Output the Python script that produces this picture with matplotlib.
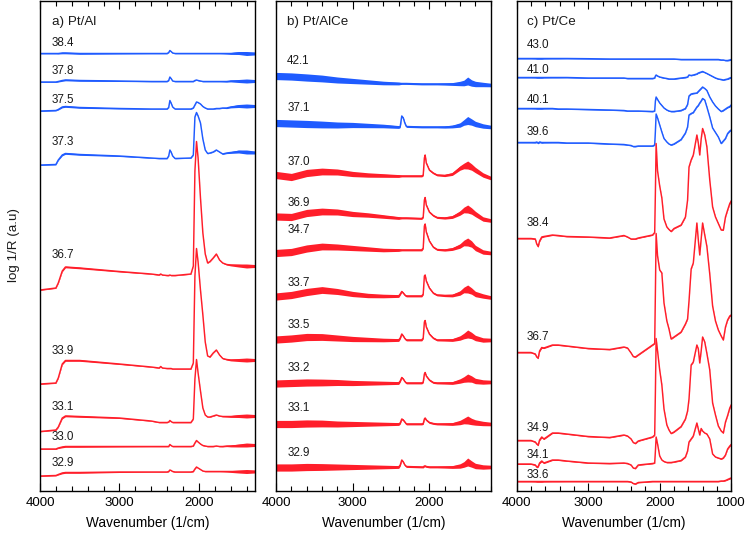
import matplotlib
matplotlib.use("Agg")
import matplotlib.pyplot as plt
from matplotlib.ticker import MultipleLocator
import numpy as np

plt.rcParams['font.family'] = ['Liberation Sans', 'DejaVu Sans']

BLUE = '#1f5bff'
RED = '#ff1e2a'

# ---------------- panel a) Pt/Al ----------------
a_title = "a) Pt/Al"
a_wn = [4000, 3800, 3770, 3720, 3680, 3500,
        3000, 2600, 2500, 2480, 2460, 2400,
        2380, 2365, 2350, 2330, 2300, 2100,
        2070, 2050, 2030, 2010, 1980, 1950,
        1920, 1890, 1860, 1820, 1780, 1740,
        1700, 1650, 1600, 1500, 1400, 1300]
a_labels = ["38.4", "37.8", "37.5", "37.3", "36.7", "33.9", "33.1", "33.0", "32.9"]
a_label_y = [448, 420, 391, 349, 236, 140.3, 84.3, 54.3, 28.3]
a_colors = [BLUE] * 4 + [RED] * 5
a_384 = [437.5, 437.5, 437.5, 438.0, 438.0, 437.5,
         437.5, 437.5, 437.5, 437.5, 437.5, 437.5,
         438.5, 440.5, 439.5, 438.0, 437.5, 437.5,
         437.5, 437.5, 437.5, 437.5, 437.5, 437.5,
         437.5, 437.5, 437.5, 437.5, 437.5, 437.5,
         437.5, 437.5, 437.5, 438.0, 437.5, 437.5]
a_378 = [409, 409, 409.5, 410.5, 411, 410.5,
         410, 409.5, 409.5, 409.5, 409.5, 409.5,
         410.5, 414, 412.5, 410, 409.5, 409.5,
         409.5, 410.5, 411, 410.5, 410, 409.5,
         409.5, 409.5, 409.5, 409.5, 409.5, 409.5,
         409.5, 409.5, 410, 410, 410, 410]
a_375 = [380, 380.5, 381.5, 384, 384.5, 383.5,
         382.5, 382, 382, 382, 382, 382,
         383.5, 390.5, 388, 384, 382, 382,
         383, 386, 389, 388.5, 387, 384.5,
         383, 382, 382, 382, 382.5, 382.5,
         383, 383, 384, 385, 385, 385]
a_373 = [326, 326.5, 331, 336, 337.5, 336.5,
         335, 333, 332.5, 332.5, 332.5, 332.5,
         335, 341, 339, 335, 332.5, 333,
         336, 374, 378.5, 375, 368, 352,
         341, 337.5, 338, 339, 341, 339,
         337, 338, 338.5, 339.5, 339, 338.5]
a_367 = [201, 203, 208, 220, 224, 223,
         219.5, 217, 216, 217, 216, 215.5,
         215.5, 216, 215.5, 215.5, 215.5, 217,
         225, 320, 349.5, 333, 293, 258,
         237, 228, 229.5, 233, 237, 231,
         228, 226.5, 226, 225.5, 225, 225]
a_339 = [107, 108, 113, 127, 130.5, 130.5,
         127, 124, 123, 124.5, 123, 122.5,
         122.5, 122.5, 122.5, 122, 122, 122,
         128, 215, 242.5, 229, 201, 176,
         149, 135, 134, 138, 141, 136,
         132.5, 131.5, 131, 131, 131, 131]
a_331 = [59.5, 61, 64, 73, 75, 74.5,
         73, 70, 68.5, 68.5, 68.5, 68.5,
         69, 70.5, 69.5, 68.5, 68.5, 68.5,
         72, 112, 131.5, 118, 100, 83,
         76, 74, 74, 75, 76, 75,
         74.5, 74.5, 74.5, 75, 75, 75]
a_330 = [42, 42, 43, 44, 44.5, 44.5,
         44.5, 44.5, 44.5, 44.5, 44.5, 44.5,
         44.5, 46.5, 45.5, 44.5, 44.5, 44.5,
         45, 48, 50.5, 49, 47, 45.5,
         45, 44.5, 44.5, 44.5, 45, 44.5,
         44.5, 45, 45, 45.5, 46, 46]
a_329 = [15, 15.5, 16.5, 18, 18.5, 18.5,
         19, 19, 19, 19, 19, 19,
         19.5, 21, 20.5, 19.5, 19, 19,
         19.5, 22, 24, 23, 21.5, 20,
         19.5, 19.5, 19.5, 19.5, 19.5, 19.5,
         19.5, 19.5, 19.5, 19.5, 19.5, 19.5]
a_noise = [0.4, 0.4, 0.5, 0.8, 0.8, 0.8,
           0.5, 0.3, 0.3, 0.3, 0.3, 0.3,
           0.3, 0.3, 0.3, 0.3, 0.3, 0.3,
           0.3, 0.3, 0.3, 0.3, 0.3, 0.3,
           0.3, 0.3, 0.3, 0.3, 0.3, 0.3,
           0.4, 0.6, 0.9, 1.5, 2.0, 1.5]

# ---------------- panel b) Pt/AlCe ----------------
b_title = "b) Pt/AlCe"
b_wn = [4000, 3800, 3600, 3400, 3200, 3000,
        2800, 2600, 2400, 2380, 2360, 2340,
        2320, 2300, 2100, 2080, 2065, 2055,
        2040, 2000, 1950, 1900, 1800, 1700,
        1600, 1550, 1500, 1450, 1400, 1300,
        1200]
b_labels = ["42.1", "37.1", "37.0", "36.9", "34.7", "33.7", "33.5", "33.2", "33.1", "32.9"]
b_label_y = [430, 382.7, 329.3, 288.3, 261, 207.7, 166, 122.7, 82.7, 37.7]
b_colors = [BLUE] * 2 + [RED] * 8
b_421 = [415, 414.5, 413.5, 412.5, 411, 410,
         409, 408, 407.5, 407.5, 407.5, 407.5,
         407.5, 407.5, 407, 407, 407, 407,
         407, 407, 407, 407, 407, 407,
         407.5, 408, 410, 408, 407, 406.5,
         406]
b_371 = [368, 367.5, 367, 366.5, 366, 366,
         365.5, 365, 364, 364.5, 375, 373,
         368, 364.5, 364, 364, 364, 364,
         364, 364, 364, 364, 364, 364.5,
         366, 368.5, 370.5, 369, 367, 365,
         364]
b_370 = [316, 314, 318, 319.5, 319, 317,
         316, 315.5, 315, 315, 315, 315,
         315, 315, 315, 316, 333, 336,
         328, 321, 318, 316, 315.5, 317,
         323, 325, 326, 324, 321, 316,
         313]
b_369 = [274.5, 274, 278, 279.5, 279, 277,
         276, 274.5, 273, 273, 273, 273,
         273, 273, 272.5, 274, 291, 293.5,
         286, 279, 275.5, 273.5, 273, 274,
         278, 281, 282, 280, 277, 272,
         270.5]
b_347 = [238, 239, 242.5, 244.5, 244, 243,
         242, 241, 241, 241, 241, 241,
         241, 241, 241, 243, 265, 267,
         259, 250, 244, 241.5, 241, 242,
         245, 248, 249, 247, 243, 239,
         238]
b_337 = [194.5, 196, 199, 201, 199.5, 197,
         195.5, 195, 195, 197, 199.5, 198,
         196, 195, 195, 197, 215, 216,
         210, 203, 198, 196, 195.5, 195.5,
         198, 201, 202, 200, 197, 195,
         193.5]
b_335 = [151.5, 152.5, 154, 154, 153, 152,
         151.5, 151, 151, 153, 157, 155,
         152.5, 151, 151, 153, 169, 170.5,
         164, 157, 153, 151, 151, 151,
         153, 155, 157, 155.5, 153, 151,
         151]
b_332 = [107.5, 108, 108.5, 108.5, 108.5, 108,
         108, 108, 108, 110, 113.5, 112,
         109.5, 108, 108, 109, 117, 118.5,
         115, 111, 108.5, 108, 108, 108,
         110, 111.5, 113, 112, 110, 109,
         109]
b_331 = [67, 67, 67.5, 67.5, 67, 67,
         67, 67, 67, 68, 72, 71,
         69, 67, 67, 67.5, 72, 73,
         71, 68.5, 67.5, 67, 67, 67,
         68.5, 70, 71, 69.5, 68.5, 67.5,
         67]
b_329 = [23.5, 23.5, 24, 24, 24, 24,
         24, 24, 24, 26, 31, 29,
         26, 24.5, 24, 24, 25, 25,
         24.5, 24, 24, 24, 24, 24,
         25, 26.5, 29, 27, 25, 24,
         24]
b_noise = [3.6, 3.6, 3.6, 3.4, 3.0, 2.6,
           2.2, 1.8, 1.4, 1.1, 0.9, 0.9,
           0.9, 0.9, 0.9, 0.9, 0.9, 0.9,
           0.9, 0.9, 0.9, 0.9, 1.1, 1.4,
           2.2, 2.8, 4.0, 3.2, 2.7, 2.2,
           1.8]

# ---------------- panel c) Pt/Ce ----------------
c_title = "c) Pt/Ce"
c_wn = [4000, 3800, 3740, 3720, 3700, 3680,
        3650, 3620, 3500, 3420, 3300, 3000,
        2700, 2500, 2450, 2400, 2370, 2340,
        2300, 2100, 2070, 2060, 2050, 2030,
        2000, 1970, 1940, 1900, 1870, 1840,
        1800, 1700, 1640, 1610, 1590, 1560,
        1530, 1480, 1460, 1440, 1420, 1400,
        1370, 1340, 1300, 1260, 1220, 1180,
        1140, 1110, 1080, 1050, 1020, 1000]
c_labels = ["43.0", "41.0", "40.1", "39.6", "38.4", "36.7", "34.9", "34.1", "33.6"]
c_label_y = [446, 421, 391, 359.3, 268.3, 153.7, 62.7, 36, 16]
c_colors = [BLUE] * 4 + [RED] * 5
c_430 = [432.5, 432.5, 432.5, 432.5, 432.5, 432.5,
         432.5, 432.5, 432.5, 432.5, 432.5, 432.3,
         432, 432, 432, 432, 432, 432,
         432, 432, 432, 432, 432, 432,
         432, 432, 432, 432, 432, 432,
         432, 431.5, 431.5, 431.5, 431.5, 431.5,
         431.5, 431.5, 431.5, 431.5, 431.5, 431.5,
         431.5, 431.5, 431.5, 431.5, 431.5, 431.5,
         431, 431, 430.5, 430.5, 431, 431.5]
c_410 = [413.5, 413.5, 413.5, 413.5, 413.5, 413.5,
         413.5, 413.5, 413.5, 413.5, 413.5, 413,
         413, 413, 412.5, 412.5, 412.5, 412.5,
         412.5, 412.5, 413, 415, 416, 415,
         414, 413.5, 413, 412.5, 412, 412,
         412, 413, 413.5, 414, 416, 415.5,
         416, 417, 418, 418.5, 419, 419.5,
         418.5, 417.5, 416, 414.5, 413, 412,
         411.5, 411, 411.5, 412, 413, 413.5]
c_401 = [382.5, 382.5, 382.5, 382.5, 382.5, 382.5,
         382.5, 382.5, 382.5, 382, 382, 381.5,
         381, 380.5, 380, 380, 380, 380,
         380, 379.5, 380, 390, 394, 391.5,
         388, 385.5, 383, 381, 380, 379.5,
         379.5, 380.5, 382.5, 386.5, 395, 397,
         397.5, 398, 399.5, 401, 402.5, 404,
         402.5, 400.5, 394, 389, 385, 382,
         379.5, 380.5, 382, 383.5, 384.5, 386]
c_396 = [348.5, 348.5, 348.5, 349, 348, 349,
         348.5, 348.5, 348.5, 348.5, 348, 348,
         347, 346.5, 346, 345.5, 344.5, 344.5,
         345, 345, 346, 360, 377, 373,
         366, 359, 352.5, 349, 347, 346,
         347, 351.5, 358, 364, 376, 377.5,
         378.5, 384, 385.5, 388, 390, 392.5,
         391, 384, 374, 363, 358.5, 354,
         347.5, 350, 352.5, 357.5, 360, 361]
c_384 = [252.5, 252.5, 252, 247, 244.5, 250,
         254, 254.5, 256, 255.5, 254.5, 254,
         253, 255.5, 254, 252, 252, 252,
         253, 256, 258.5, 300, 347.5, 320,
         305, 293, 272, 264, 261.5, 259.5,
         262.5, 266, 274, 291, 324, 331,
         336, 356, 348, 336, 352, 362.5,
         356, 344, 311, 284, 274, 267.5,
         261, 261, 274, 281, 287.5, 290]
c_367 = [138.5, 138.5, 137, 134, 133, 140,
         143.5, 143, 146, 146, 145, 142.5,
         141.5, 144, 143, 138, 134.5, 134,
         136, 146, 147.5, 200, 257.5, 235,
         221, 218, 188, 170, 162, 152,
         154, 159, 167, 172, 190, 222,
         228, 268, 251, 236, 252, 268,
         256, 244.5, 217, 185, 170, 161,
         155, 151, 164, 171, 175, 176]
c_349 = [50.5, 50.5, 49, 47, 46, 51,
         54, 52, 58, 58, 57, 54.5,
         53.5, 56, 55, 52, 48.5, 47.5,
         50, 54, 56, 100, 152.5, 140,
         121, 106, 82, 66, 61, 57.5,
         59, 64.5, 72, 80, 92, 126,
         129, 146, 142, 128, 140, 154,
         149, 137.5, 121, 88, 76, 65,
         60, 58, 69, 75.5, 83, 86]
c_341 = [27, 27, 26, 24, 24.5, 28,
         30, 28, 31, 31, 30, 28,
         27.5, 28, 27.5, 26, 23, 22.5,
         26, 27.5, 28, 40, 54, 47,
         35, 31, 29.5, 28.5, 28.5, 28.5,
         29, 30.5, 34, 40, 49, 52,
         55, 68, 62, 56, 62.5, 60,
         58, 57, 52, 37, 34, 33,
         32, 33, 36, 42, 45, 46.5]
c_336 = [9.5, 9.5, 9.5, 9.5, 9.5, 9.5,
         9.5, 9.5, 9.5, 9.5, 9.5, 9.5,
         9.5, 9.5, 9.5, 9, 7.5, 7,
         8.5, 9.5, 9.5, 9.5, 9.5, 9.5,
         9.5, 9.5, 9.5, 9.5, 9.5, 9.5,
         9.5, 9.5, 9.5, 9.5, 9.5, 9.5,
         9.5, 9.5, 9.5, 9.5, 9.5, 9.5,
         9.5, 9.5, 9.5, 9.5, 9.5, 9.5,
         10, 10, 10.5, 11.5, 12.5, 13]
c_noise = [0.5, 0.5, 0.6, 0.8, 0.8, 0.8,
           0.8, 0.6, 0.5, 0.5, 0.4, 0.4,
           0.4, 0.4, 0.4, 0.4, 0.4, 0.4,
           0.4, 0.4, 0.4, 0.4, 0.4, 0.4,
           0.4, 0.4, 0.4, 0.4, 0.4, 0.4,
           0.4, 0.4, 0.4, 0.4, 0.4, 0.4,
           0.4, 0.4, 0.4, 0.4, 0.4, 0.4,
           0.4, 0.4, 0.4, 0.4, 0.4, 0.4,
           0.4, 0.4, 0.4, 0.5, 0.6, 0.6]

panels = [
    (a_title, a_wn, [a_384, a_378, a_375, a_373, a_367, a_339, a_331, a_330, a_329],
     a_labels, a_label_y, a_colors, a_noise, (4000, 1300), [4000, 3000, 2000]),
    (b_title, b_wn, [b_421, b_371, b_370, b_369, b_347, b_337, b_335, b_332, b_331, b_329],
     b_labels, b_label_y, b_colors, b_noise, (4000, 1200), [4000, 3000, 2000]),
    (c_title, c_wn, [c_430, c_410, c_401, c_396, c_384, c_367, c_349, c_341, c_336],
     c_labels, c_label_y, c_colors, c_noise, (4000, 1000), [4000, 3000, 2000, 1000]),
]

W, H = 746, 533
fig = plt.figure(figsize=(W / 100, H / 100), dpi=100)
lefts = [40, 276, 516.7]
rights = [254.5, 490.7, 731.2]
top_px, bot_px = 1, 491

for (title, wn, series, labels, label_y, colors, noise, xlim, xt), l, r in zip(panels, lefts, rights):
    ax = fig.add_axes([l / W, 1 - bot_px / H, (r - l) / W, (bot_px - top_px) / H])
    wn_arr = np.array(wn, dtype=float)
    nz = np.array(noise, dtype=float)
    for vals, col in zip(series, colors):
        v = np.array(vals, dtype=float)
        ax.fill_between(wn_arr, v - nz, v + nz, color=col, lw=0)
        ax.plot(wn_arr, v, color=col, lw=1.05, solid_joinstyle='round')
    for lab, ly in zip(labels, label_y):
        ax.text(3855, ly, lab, fontsize=8.4, ha='left', va='center', color='#1a1a1a')
    ax.text(3855, 468.5, title, fontsize=9.6, ha='left', va='center', color='#1a1a1a')
    ax.set_xlim(*xlim)
    ax.set_ylim(0, 490)
    ax.set_yticks([])
    ax.xaxis.set_major_locator(MultipleLocator(1000))
    ax.xaxis.set_minor_locator(MultipleLocator(200))
    ax.set_xticks(xt)
    ax.set_xticklabels([str(t) for t in xt])
    ax.tick_params(axis='x', which='major', direction='in', length=6, width=0.8,
                   top=True, labelsize=9.6, pad=4)
    ax.tick_params(axis='x', which='minor', direction='in', length=3.5, width=0.8, top=True)
    for s in ax.spines.values():
        s.set_linewidth(1.0)
    ax.set_xlabel("Wavenumber (1/cm)", fontsize=9.8, labelpad=5)

fig.text(14 / W, 1 - 245 / H, "log 1/R (a.u)", rotation=90, fontsize=9.6,
         ha='center', va='center', color='#1a1a1a')

fig.savefig("out.png", dpi=100)
